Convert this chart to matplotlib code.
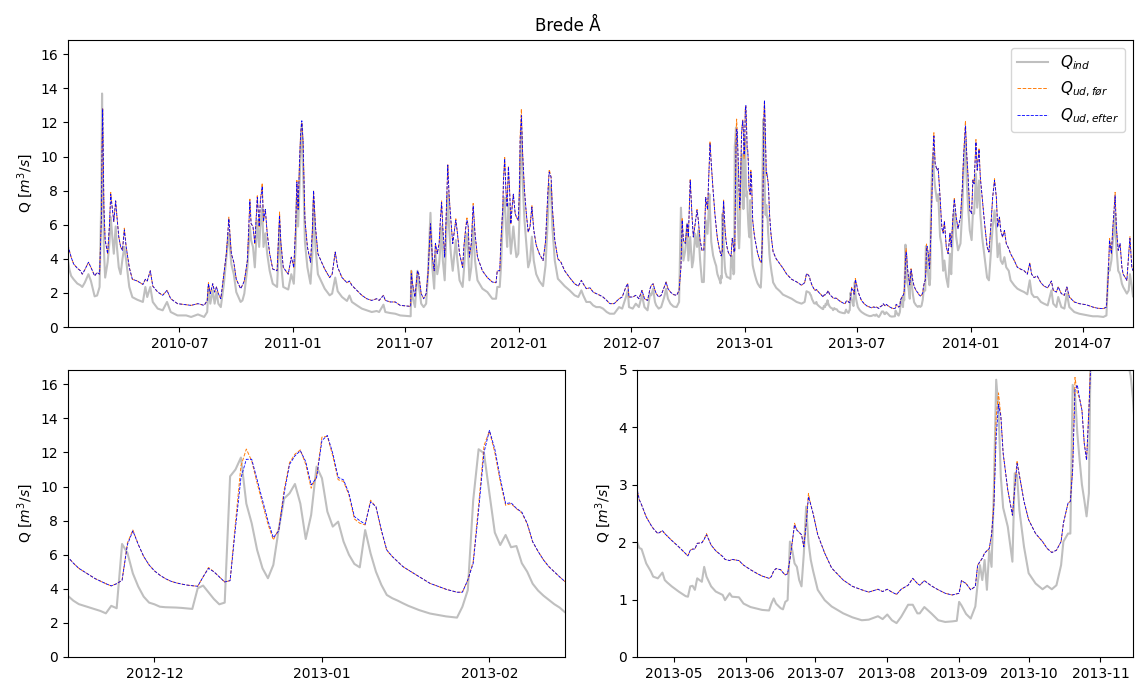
import pandas as pd
import matplotlib.pyplot as plt
import matplotlib.dates as mdates

# daily discharge, Brede Å (m3/s) -- vertices of the hydrograph
dates = [
    '2010-01-02', '2010-01-04', '2010-01-07', '2010-01-11', '2010-01-17', '2010-01-22', '2010-01-25', '2010-01-29', '2010-02-04', '2010-02-08', '2010-02-14', '2010-02-18', '2010-02-22',
    '2010-02-25', '2010-02-26', '2010-02-27', '2010-03-01', '2010-03-03', '2010-03-07', '2010-03-10', '2010-03-12', '2010-03-15', '2010-03-17', '2010-03-20', '2010-03-22', '2010-03-25', '2010-03-28', '2010-03-31', '2010-04-03', '2010-04-06',
    '2010-04-11', '2010-04-16', '2010-04-24', '2010-05-03', '2010-05-07', '2010-05-10', '2010-05-15', '2010-05-19', '2010-05-27', '2010-06-04', '2010-06-11', '2010-06-17', '2010-06-28', '2010-07-12', '2010-07-20', '2010-07-31', '2010-08-10',
    '2010-08-15', '2010-08-17', '2010-08-20', '2010-08-24', '2010-08-27', '2010-08-30', '2010-09-02', '2010-09-06', '2010-09-11', '2010-09-15', '2010-09-19', '2010-09-23', '2010-09-27', '2010-10-01', '2010-10-08', '2010-10-11', '2010-10-14',
    '2010-10-19', '2010-10-23', '2010-10-25', '2010-10-28', '2010-10-31', '2010-11-04', '2010-11-07', '2010-11-09', '2010-11-12', '2010-11-14', '2010-11-17', '2010-11-20', '2010-11-24', '2010-11-29', '2010-12-06', '2010-12-10', '2010-12-12', '2010-12-16', '2010-12-24', '2010-12-29',
    '2011-01-02', '2011-01-05', '2011-01-07', '2011-01-09', '2011-01-11', '2011-01-13', '2011-01-15', '2011-01-17', '2011-01-20', '2011-01-24', '2011-01-29', '2011-02-01', '2011-02-03', '2011-02-06', '2011-02-10', '2011-02-16', '2011-02-21', '2011-03-01', '2011-03-05', '2011-03-10', '2011-03-14',
    '2011-03-21', '2011-03-29', '2011-04-02', '2011-04-06', '2011-04-14', '2011-04-22', '2011-04-30', '2011-05-08', '2011-05-16', '2011-05-20', '2011-05-27', '2011-05-30', '2011-06-07', '2011-06-15', '2011-06-23', '2011-07-10',
    '2011-07-11', '2011-07-13', '2011-07-17', '2011-07-21', '2011-07-23', '2011-07-27', '2011-07-31', '2011-08-04', '2011-08-07', '2011-08-11', '2011-08-14', '2011-08-17', '2011-08-19', '2011-08-22', '2011-08-25', '2011-08-27', '2011-08-29', '2011-08-31', '2011-09-03',
    '2011-09-05', '2011-09-08', '2011-09-10', '2011-09-13', '2011-09-16', '2011-09-21', '2011-09-23', '2011-09-27', '2011-10-02', '2011-10-04', '2011-10-07', '2011-10-09', '2011-10-11', '2011-10-13', '2011-10-16', '2011-10-19', '2011-10-22', '2011-10-26', '2011-11-03',
    '2011-11-11', '2011-11-19', '2011-11-25', '2011-11-27', '2011-12-01', '2011-12-03', '2011-12-06', '2011-12-07', '2011-12-09', '2011-12-11', '2011-12-13', '2011-12-15', '2011-12-17', '2011-12-19', '2011-12-21', '2011-12-23', '2011-12-26', '2011-12-28', '2011-12-31',
    '2012-01-02', '2012-01-03', '2012-01-05', '2012-01-07', '2012-01-10', '2012-01-13', '2012-01-16', '2012-01-19', '2012-01-22', '2012-01-25', '2012-01-29', '2012-02-03', '2012-02-09', '2012-02-13', '2012-02-17', '2012-02-19', '2012-02-22', '2012-02-24', '2012-02-28', '2012-03-04', '2012-03-09',
    '2012-03-15', '2012-03-23', '2012-03-31', '2012-04-06', '2012-04-11', '2012-04-14', '2012-04-19', '2012-04-25', '2012-04-30', '2012-05-05', '2012-05-11', '2012-05-16', '2012-05-22', '2012-05-27', '2012-06-03', '2012-06-11', '2012-06-16', '2012-06-22', '2012-06-25', '2012-06-27',
    '2012-07-03', '2012-07-08', '2012-07-13', '2012-07-18', '2012-07-22', '2012-07-27', '2012-07-31', '2012-08-02', '2012-08-05', '2012-08-08', '2012-08-10', '2012-08-14', '2012-08-18', '2012-08-23', '2012-08-26', '2012-08-29', '2012-09-02', '2012-09-07', '2012-09-12', '2012-09-16',
    '2012-09-19', '2012-09-21', '2012-09-23', '2012-09-26', '2012-09-29', '2012-10-01', '2012-10-04', '2012-10-07', '2012-10-09', '2012-10-12', '2012-10-15', '2012-10-17', '2012-10-20', '2012-10-23', '2012-10-26', '2012-10-29', '2012-11-01', '2012-11-04', '2012-11-05', '2012-11-07', '2012-11-10', '2012-11-13',
    '2012-11-15', '2012-11-16', '2012-11-17', '2012-11-18', '2012-11-19', '2012-11-20', '2012-11-21', '2012-11-22', '2012-11-23', '2012-11-24', '2012-11-25', '2012-11-26', '2012-11-27', '2012-11-28', '2012-11-29', '2012-11-30',
    '2012-12-01', '2012-12-02', '2012-12-03', '2012-12-04', '2012-12-05', '2012-12-06', '2012-12-07', '2012-12-08', '2012-12-09', '2012-12-10', '2012-12-11', '2012-12-12', '2012-12-13', '2012-12-14',
    '2012-12-15', '2012-12-16', '2012-12-17', '2012-12-18', '2012-12-19', '2012-12-20', '2012-12-21', '2012-12-22', '2012-12-23', '2012-12-24', '2012-12-25', '2012-12-26', '2012-12-27', '2012-12-28', '2012-12-29', '2012-12-30', '2012-12-31',
    '2013-01-01', '2013-01-02', '2013-01-03', '2013-01-04', '2013-01-05', '2013-01-06', '2013-01-07', '2013-01-08', '2013-01-09', '2013-01-10', '2013-01-11', '2013-01-12', '2013-01-13', '2013-01-14', '2013-01-15', '2013-01-16', '2013-01-17',
    '2013-01-19', '2013-01-21', '2013-01-24', '2013-01-26', '2013-01-27', '2013-01-28', '2013-01-29', '2013-01-30', '2013-01-31',
    '2013-02-01', '2013-02-02', '2013-02-03', '2013-02-04', '2013-02-05', '2013-02-06', '2013-02-07', '2013-02-08', '2013-02-09', '2013-02-10', '2013-02-11', '2013-02-12', '2013-02-13', '2013-02-14', '2013-02-15',
    '2013-02-20', '2013-02-26', '2013-03-03', '2013-03-09', '2013-03-17', '2013-03-25', '2013-04-02', '2013-04-07', '2013-04-10', '2013-04-13',
    '2013-04-15', '2013-04-16', '2013-04-17', '2013-04-19', '2013-04-21', '2013-04-22', '2013-04-24', '2013-04-26', '2013-04-27', '2013-04-28', '2013-04-30', '2013-05-03', '2013-05-06', '2013-05-07', '2013-05-08', '2013-05-09', '2013-05-10', '2013-05-11', '2013-05-13', '2013-05-14',
    '2013-05-15', '2013-05-17', '2013-05-19', '2013-05-22', '2013-05-23', '2013-05-25', '2013-05-26', '2013-05-29', '2013-05-31', '2013-06-03', '2013-06-06', '2013-06-08', '2013-06-11', '2013-06-12', '2013-06-13', '2013-06-14', '2013-06-16', '2013-06-17', '2013-06-18', '2013-06-19',
    '2013-06-20', '2013-06-21', '2013-06-22', '2013-06-23', '2013-06-24', '2013-06-25', '2013-06-26', '2013-06-27', '2013-06-28', '2013-06-29', '2013-06-30', '2013-07-02', '2013-07-05', '2013-07-08', '2013-07-13', '2013-07-17', '2013-07-21', '2013-07-24', '2013-07-28', '2013-07-30', '2013-08-01', '2013-08-03', '2013-08-05', '2013-08-07',
    '2013-08-10', '2013-08-12', '2013-08-14', '2013-08-15', '2013-08-17', '2013-08-20', '2013-08-23', '2013-08-26', '2013-08-29', '2013-08-31', '2013-09-01', '2013-09-02', '2013-09-04', '2013-09-06', '2013-09-08', '2013-09-09', '2013-09-10', '2013-09-11', '2013-09-12', '2013-09-13', '2013-09-14', '2013-09-15',
    '2013-09-16', '2013-09-17', '2013-09-18', '2013-09-19', '2013-09-20', '2013-09-22', '2013-09-24', '2013-09-25', '2013-09-26', '2013-09-27', '2013-09-29', '2013-10-01', '2013-10-04', '2013-10-07', '2013-10-09',
    '2013-10-11', '2013-10-13', '2013-10-15', '2013-10-16', '2013-10-18', '2013-10-19', '2013-10-20', '2013-10-21', '2013-10-22', '2013-10-23', '2013-10-24', '2013-10-25', '2013-10-26', '2013-10-27', '2013-10-28',
    '2013-10-30', '2013-11-01', '2013-11-02', '2013-11-04', '2013-11-07', '2013-11-09', '2013-11-12', '2013-11-14', '2013-11-15', '2013-11-17', '2013-11-19', '2013-11-22', '2013-11-25',
    '2013-11-28', '2013-11-30', '2013-12-03', '2013-12-05', '2013-12-08', '2013-12-11', '2013-12-15', '2013-12-18', '2013-12-20', '2013-12-23', '2013-12-25', '2013-12-27', '2013-12-30',
    '2014-01-02', '2014-01-04', '2014-01-06', '2014-01-09', '2014-01-11', '2014-01-14', '2014-01-16', '2014-01-19', '2014-01-23', '2014-01-27', '2014-01-30',
    '2014-02-02', '2014-02-05', '2014-02-08', '2014-02-11', '2014-02-13', '2014-02-16', '2014-02-18', '2014-02-21', '2014-02-24', '2014-02-27', '2014-03-03',
    '2014-03-06', '2014-03-12', '2014-03-17', '2014-03-22', '2014-03-28', '2014-04-02', '2014-04-06', '2014-04-09', '2014-04-13', '2014-04-18', '2014-04-24', '2014-04-29', '2014-05-05', '2014-05-11', '2014-05-14',
    '2014-05-19', '2014-05-22', '2014-05-27', '2014-06-01', '2014-06-05', '2014-06-09', '2014-06-17', '2014-06-25', '2014-07-06', '2014-07-12', '2014-07-17', '2014-07-25', '2014-08-03', '2014-08-08',
    '2014-08-11', '2014-08-13', '2014-08-16', '2014-08-18', '2014-08-20', '2014-08-22', '2014-08-24', '2014-08-27', '2014-08-30', '2014-09-02', '2014-09-04', '2014-09-10', '2014-09-13', '2014-09-15', '2014-09-18', '2014-09-20',
]

q_ind = [
    3.9, 3.4, 3.0, 2.8, 2.55, 2.45, 2.35, 2.6, 3.1, 2.7, 1.8, 1.85, 2.35,
    8.0, 13.7, 9.0, 4.5, 2.9, 3.8, 5.0, 6.45, 5.1, 4.3, 5.9, 4.7, 3.5, 3.1, 4.0, 4.7, 3.9,
    2.35, 1.75, 1.6, 1.47, 2.35, 1.76, 2.35, 1.47, 1.08, 0.98, 1.47, 0.88, 0.68, 0.68, 0.59, 0.74, 0.59,
    0.88, 2.35, 1.37, 2.15, 1.37, 2.05, 1.37, 1.17, 2.54, 4.1, 5.5, 3.7, 3.1, 2.05, 1.47, 1.56, 1.96,
    3.5, 5.9, 5.1, 4.7, 3.5, 6.26, 4.7, 5.9, 7.0, 4.7, 5.5, 4.3, 3.3, 2.54, 2.35, 5.9, 3.9, 2.35, 2.2, 3.1,
    2.54, 4.7, 7.6, 5.9, 8.0, 10.4, 11.9, 9.4, 5.0, 3.5, 2.54, 4.3, 7.4, 4.7, 3.1, 2.64, 2.25, 1.86, 1.96, 2.9, 2.1,
    1.76, 1.53, 1.85, 1.47, 1.27, 1.08, 0.98, 0.88, 0.94, 0.88, 1.31, 0.88, 0.82, 0.78, 0.68, 0.63,
    3.3, 1.76, 1.17, 3.3, 2.54, 1.37, 1.17, 1.37, 3.1, 6.7, 3.5, 2.25, 4.3, 3.1, 3.7, 4.7, 5.9, 3.9, 2.74,
    4.7, 7.8, 5.9, 4.3, 3.3, 5.1, 4.1, 2.74, 2.35, 3.3, 4.9, 5.5, 4.3, 2.74, 3.5, 5.9, 3.9, 2.74, 2.25,
    2.05, 1.66, 1.66, 2.35, 2.35, 3.5, 6.5, 7.0, 7.6, 5.9, 4.7, 7.25, 5.5, 4.3, 5.1, 5.9, 4.7, 4.1, 4.3,
    6.6, 9.4, 11.5, 8.6, 6.26, 4.9, 3.5, 3.9, 5.3, 3.9, 3.1, 2.7, 2.4, 3.6, 6.5, 8.4, 8.0, 5.9, 3.9, 2.83, 2.64,
    2.4, 2.15, 1.86, 1.76, 2.15, 1.86, 1.47, 1.47, 1.27, 1.17, 1.17, 1.08, 0.88, 0.78, 0.78, 1.17, 1.08, 1.76, 2.15, 1.17,
    1.08, 1.37, 1.17, 1.86, 1.17, 0.98, 1.96, 1.86, 2.25, 1.47, 1.27, 1.08, 1.17, 1.76, 2.25, 1.66, 1.37, 1.2, 1.17, 1.47,
    7.0, 5.1, 3.9, 4.5, 6.06, 3.9, 5.28, 3.5, 3.9, 5.47, 4.7, 5.67, 3.9, 2.64, 2.64, 6.26, 5.47, 7.8, 6.8, 5.0, 4.2, 3.8,
    3.58, 3.3, 3.1, 3.0, 2.9, 2.8, 2.7, 2.56, 3.0, 2.86, 6.63, 6.1, 4.9, 4.13, 3.54, 3.19,
    3.09, 2.95, 2.92, 2.91, 2.9, 2.88, 2.85, 2.82, 4.03, 4.19, 3.8, 3.4, 3.09, 3.19,
    10.6, 11.0, 11.7, 9.0, 7.84, 6.28, 5.2, 4.62, 5.4, 7.5, 9.3, 9.6, 10.15, 9.0, 6.92, 8.33, 11.17,
    10.49, 8.53, 7.65, 7.94, 6.77, 6.0, 5.46, 5.26, 7.45, 6.08, 5.0, 4.23, 3.64, 3.45, 3.31, 3.15, 3.0,
    2.75, 2.55, 2.38, 2.31, 2.95, 3.93, 9.2, 12.19, 11.95,
    9.6, 7.3, 6.57, 7.16, 6.44, 6.51, 5.5, 5.0, 4.3, 3.9, 3.6, 3.35, 3.1, 2.9, 2.62,
    2.3, 2.1, 1.9, 1.8, 1.66, 1.47, 1.37, 1.47, 2.1, 2.05,
    2.01, 1.9, 1.88, 1.63, 1.49, 1.4, 1.37, 1.47, 1.34, 1.3, 1.23, 1.14, 1.06, 1.05, 1.23, 1.24, 1.17, 1.37, 1.31, 1.57,
    1.4, 1.23, 1.14, 1.08, 0.99, 1.11, 1.05, 1.04, 0.93, 0.87, 0.84, 0.82, 0.81, 0.93, 1.02, 0.93, 0.85, 0.83, 0.96, 0.99,
    2.01, 1.86, 1.63, 1.57, 1.34, 1.23, 1.8, 2.62, 2.0, 1.69, 1.5, 1.17, 0.99, 0.88, 0.76, 0.69, 0.64, 0.65, 0.71, 0.66, 0.74, 0.64, 0.59, 0.7,
    0.91, 0.91, 0.76, 0.76, 0.87, 0.76, 0.64, 0.61, 0.62, 0.63, 0.96, 0.9, 0.75, 0.67, 0.88, 1.28, 1.6, 1.34, 1.69, 1.17, 1.86, 1.57,
    2.91, 4.83, 4.3, 3.14, 2.6, 2.27, 1.66, 3.2, 3.17, 2.56, 1.92, 1.46, 1.28, 1.18, 1.24,
    1.18, 1.25, 1.6, 2.01, 2.15, 2.15, 4.74, 4.59, 3.9, 3.43, 3.0, 2.74, 2.45, 2.85, 6.3,
    9.2, 10.2, 9.0, 8.2, 7.4, 7.8, 5.3, 4.9, 4.5, 3.3, 3.9, 2.9, 2.35,
    4.3, 3.1, 5.87, 6.84, 5.3, 4.5, 4.9, 7.0, 9.2, 10.9, 8.6, 7.2, 5.67,
    5.1, 6.65, 6.65, 9.0, 7.0, 8.6, 6.65, 5.28, 4.1, 2.9, 2.74,
    4.3, 5.87, 6.84, 5.67, 4.1, 4.9, 3.9, 3.7, 4.1, 3.5, 3.3,
    2.74, 2.44, 2.25, 2.15, 2.05, 1.92, 2.74, 1.96, 1.76, 1.76, 1.47, 1.37, 1.27, 2.15, 1.37,
    1.17, 1.76, 1.17, 1.08, 1.96, 1.17, 0.88, 0.78, 0.7, 0.66, 0.63, 0.63, 0.59, 0.68,
    3.5, 3.3, 3.9, 4.9, 5.5, 6.65, 4.7, 3.3, 3.1, 2.54, 2.35, 1.96, 2.15, 3.1, 2.35, 1.8,
]

q_ud_for = [
    4.8, 4.5, 4.1, 3.7, 3.45, 3.3, 3.1, 3.35, 3.8, 3.5, 3.0, 3.2, 3.1,
    6.6, 10.7, 12.8, 7.0, 5.1, 4.3, 6.0, 7.9, 6.8, 6.2, 7.4, 6.5, 5.3, 4.7, 4.5, 5.8, 4.7,
    3.5, 2.8, 2.7, 2.5, 2.8, 2.7, 3.3, 2.4, 2.05, 1.86, 2.15, 1.66, 1.37, 1.31, 1.27, 1.37, 1.27,
    1.55, 2.6, 1.96, 2.54, 2.05, 2.35, 1.96, 1.66, 3.1, 4.3, 6.45, 4.3, 3.8, 2.8, 2.25, 2.45, 2.7,
    3.9, 7.5, 6.06, 5.9, 4.9, 7.7, 5.9, 7.4, 8.45, 6.2, 6.9, 5.5, 4.3, 3.4, 3.3, 6.75, 5.0, 3.5, 3.1, 4.1,
    3.5, 5.9, 8.6, 6.9, 9.4, 11.3, 12.0, 10.9, 6.3, 4.7, 3.8, 5.6, 8.0, 5.9, 4.3, 3.8, 3.4, 2.9, 3.1, 4.4, 3.5,
    2.9, 2.6, 2.7, 2.44, 2.15, 1.86, 1.66, 1.56, 1.66, 1.56, 1.86, 1.56, 1.47, 1.47, 1.27, 1.21,
    3.3, 2.54, 1.76, 3.3, 3.13, 1.96, 1.66, 1.96, 3.13, 6.06, 4.1, 3.3, 4.9, 4.3, 4.9, 6.26, 7.4, 5.8, 4.1,
    6.06, 9.55, 7.8, 6.26, 4.9, 6.35, 5.7, 4.3, 3.5, 4.7, 5.9, 6.4, 5.9, 4.1, 4.9, 7.25, 5.5, 4.1, 3.3,
    2.9, 2.64, 2.6, 3.3, 3.3, 5.1, 7.04, 8.6, 9.95, 8.0, 7.04, 9.45, 8.0, 6.06, 7.04, 7.8, 6.65, 6.45, 6.26,
    8.2, 11.2, 12.8, 10.2, 8.0, 6.65, 5.57, 5.9, 7.15, 5.7, 4.8, 4.3, 3.9, 5.0, 8.0, 9.25, 8.8, 7.04, 5.1, 4.0, 3.8,
    3.3, 2.9, 2.54, 2.4, 2.74, 2.54, 2.25, 2.3, 2.05, 1.96, 1.86, 1.76, 1.56, 1.37, 1.37, 1.66, 1.76, 2.35, 2.54, 1.76,
    1.76, 1.86, 1.66, 2.15, 1.66, 1.56, 2.25, 2.44, 2.54, 2.15, 1.96, 1.76, 1.86, 2.35, 2.64, 2.25, 2.05, 1.9, 1.86, 2.15,
    3.5, 6.4, 5.08, 4.9, 6.06, 5.28, 8.7, 6.45, 5.28, 6.06, 6.9, 6.3, 5.08, 4.5, 4.5, 7.6, 6.9, 9.9, 10.9, 9.6, 8.0, 6.6,
    5.85, 5.5, 5.2, 5.0, 4.8, 4.6, 4.45, 4.3, 4.17, 4.3, 4.5, 6.7, 7.45, 6.6, 5.9, 5.4,
    5.05, 4.8, 4.6, 4.45, 4.35, 4.28, 4.22, 4.18, 4.15, 4.7, 5.25, 5.0, 4.7, 4.4,
    4.48, 7.9, 11.2, 12.2, 11.5, 10.2, 9.0, 7.8, 6.87, 7.5, 9.8, 11.4, 11.9, 12.15, 11.3, 9.9, 10.6,
    12.9, 12.95, 11.8, 10.4, 10.3, 9.5, 8.1, 7.85, 7.75, 9.2, 8.8, 7.4, 6.25, 5.9, 5.6, 5.3, 5.1,
    4.71, 4.32, 3.97, 3.8, 3.8, 4.52, 5.6, 8.9, 12.4,
    13.25, 12.0, 10.3, 8.9, 9.0, 8.7, 8.45, 7.8, 6.75, 6.2, 5.7, 5.3, 5.0, 4.7, 4.42,
    4.0, 3.7, 3.45, 3.1, 2.8, 2.65, 2.45, 2.6, 3.13, 3.05,
    2.94, 2.74, 2.65, 2.44, 2.3, 2.24, 2.15, 2.2, 2.15, 2.11, 2.03, 1.92, 1.8, 1.76, 1.86, 1.88, 1.88, 1.98, 1.99, 2.05,
    2.15, 1.95, 1.85, 1.75, 1.7, 1.68, 1.7, 1.68, 1.6, 1.52, 1.45, 1.41, 1.37, 1.4, 1.5, 1.54, 1.52, 1.47, 1.43, 1.45,
    1.7, 2.0, 2.33, 2.21, 2.17, 2.13, 1.92, 2.35, 2.85, 2.65, 2.5, 2.13, 1.81, 1.55, 1.34, 1.23, 1.17, 1.13, 1.18, 1.14, 1.18, 1.13, 1.09, 1.18,
    1.25, 1.37, 1.28, 1.25, 1.33, 1.24, 1.17, 1.11, 1.08, 1.1, 1.11, 1.33, 1.28, 1.17, 1.23, 1.6, 1.66, 1.72, 1.81, 1.85, 1.89, 2.13,
    2.7, 4.2, 4.6, 4.2, 3.55, 2.91, 2.47, 2.94, 3.42, 3.17, 2.71, 2.39, 2.15, 2.01, 1.89,
    1.82, 1.86, 2.01, 2.33, 2.68, 2.71, 3.3, 4.87, 4.6, 4.5, 4.3, 3.72, 3.43, 4.35, 5.4,
    8.2, 10.8, 11.4, 9.6, 9.2, 9.3, 7.6, 6.3, 5.8, 5.5, 6.2, 4.7, 4.3,
    5.5, 4.7, 6.6, 7.6, 6.45, 5.77, 6.45, 8.2, 10.1, 12.1, 10.2, 9.0, 6.84,
    6.65, 8.7, 8.4, 11.0, 9.2, 10.5, 8.8, 7.6, 6.06, 4.7, 4.4,
    5.87, 7.6, 8.7, 7.6, 5.87, 6.45, 5.67, 5.28, 5.67, 4.9, 4.6,
    4.3, 3.9, 3.5, 3.4, 3.3, 3.1, 3.75, 3.1, 2.9, 3.0, 2.6, 2.4, 2.3, 2.7, 2.15,
    2.05, 2.35, 1.96, 1.86, 2.35, 1.76, 1.47, 1.37, 1.31, 1.23, 1.17, 1.1, 1.08, 1.17,
    3.1, 5.2, 4.3, 5.67, 6.7, 7.9, 5.87, 4.5, 4.9, 3.5, 3.1, 2.74, 4.3, 5.3, 3.5, 3.3,
]

q_ud_efter = [
    4.8, 4.5, 4.1, 3.7, 3.45, 3.3, 3.1, 3.35, 3.8, 3.5, 3.0, 3.2, 3.1,
    6.5, 10.5, 12.8, 7.0, 5.1, 4.3, 6.0, 7.8, 6.8, 6.2, 7.4, 6.5, 5.3, 4.7, 4.5, 5.7, 4.7,
    3.5, 2.8, 2.7, 2.5, 2.8, 2.7, 3.3, 2.4, 2.05, 1.86, 2.15, 1.66, 1.37, 1.31, 1.27, 1.37, 1.27,
    1.55, 2.54, 1.96, 2.54, 2.05, 2.35, 1.96, 1.66, 3.1, 4.3, 6.35, 4.3, 3.8, 2.8, 2.25, 2.45, 2.7,
    3.9, 7.4, 6.06, 5.9, 4.9, 7.6, 5.9, 7.4, 8.25, 6.2, 6.9, 5.5, 4.3, 3.4, 3.3, 6.55, 5.0, 3.5, 3.1, 4.1,
    3.5, 5.9, 8.5, 6.9, 9.4, 11.3, 12.1, 10.9, 6.3, 4.7, 3.8, 5.6, 8.0, 5.9, 4.3, 3.8, 3.4, 2.9, 3.1, 4.4, 3.5,
    2.9, 2.6, 2.7, 2.44, 2.15, 1.86, 1.66, 1.56, 1.66, 1.56, 1.86, 1.56, 1.47, 1.47, 1.27, 1.21,
    3.13, 2.54, 1.76, 3.3, 3.13, 1.96, 1.66, 1.96, 3.13, 6.06, 4.1, 3.3, 4.9, 4.3, 4.9, 6.26, 7.3, 5.8, 4.1,
    6.06, 9.5, 7.8, 6.26, 4.9, 6.26, 5.7, 4.3, 3.5, 4.7, 5.77, 6.26, 5.9, 4.1, 4.9, 7.1, 5.5, 4.1, 3.3,
    2.9, 2.64, 2.6, 3.3, 3.3, 5.1, 7.04, 8.6, 9.87, 8.0, 7.04, 9.4, 8.0, 6.06, 7.04, 7.8, 6.65, 6.45, 6.26,
    8.2, 11.0, 12.4, 10.2, 8.0, 6.65, 5.57, 5.9, 7.04, 5.7, 4.8, 4.3, 3.9, 5.0, 8.0, 9.1, 8.8, 7.04, 5.1, 4.0, 3.8,
    3.3, 2.9, 2.54, 2.4, 2.74, 2.54, 2.25, 2.3, 2.05, 1.96, 1.86, 1.76, 1.56, 1.37, 1.37, 1.66, 1.76, 2.35, 2.54, 1.76,
    1.76, 1.86, 1.66, 2.15, 1.66, 1.56, 2.25, 2.44, 2.54, 2.15, 1.96, 1.76, 1.86, 2.35, 2.64, 2.25, 2.05, 1.9, 1.86, 2.15,
    3.5, 6.26, 5.08, 4.9, 6.06, 5.28, 8.6, 6.45, 5.28, 6.06, 6.84, 6.3, 5.08, 4.5, 4.5, 7.6, 6.9, 9.8, 10.75, 9.6, 8.0, 6.6,
    5.85, 5.5, 5.2, 5.0, 4.8, 4.6, 4.45, 4.3, 4.17, 4.3, 4.5, 6.6, 7.4, 6.6, 5.9, 5.4,
    5.05, 4.8, 4.6, 4.45, 4.35, 4.28, 4.22, 4.18, 4.15, 4.7, 5.2, 5.0, 4.7, 4.4,
    4.48, 7.6, 10.5, 11.6, 11.6, 10.4, 9.2, 8.0, 7.0, 7.4, 9.6, 11.3, 11.8, 12.1, 11.46, 10.1, 10.5,
    12.7, 13.0, 11.95, 10.54, 10.39, 9.6, 8.24, 8.0, 7.79, 9.1, 8.82, 7.45, 6.28, 5.9, 5.6, 5.3, 5.1,
    4.71, 4.32, 3.97, 3.8, 3.8, 4.52, 5.5, 8.6, 12.0,
    13.3, 12.2, 10.5, 9.0, 9.05, 8.72, 8.5, 7.84, 6.77, 6.2, 5.7, 5.3, 5.0, 4.7, 4.42,
    4.0, 3.7, 3.45, 3.1, 2.8, 2.65, 2.45, 2.6, 3.13, 3.05,
    2.94, 2.74, 2.65, 2.44, 2.3, 2.24, 2.15, 2.2, 2.15, 2.11, 2.03, 1.92, 1.8, 1.76, 1.86, 1.88, 1.88, 1.98, 1.99, 2.05,
    2.13, 1.95, 1.85, 1.75, 1.7, 1.68, 1.7, 1.68, 1.6, 1.52, 1.45, 1.41, 1.37, 1.4, 1.5, 1.54, 1.52, 1.47, 1.43, 1.45,
    1.7, 2.0, 2.3, 2.21, 2.17, 2.13, 1.92, 2.3, 2.79, 2.65, 2.5, 2.13, 1.81, 1.55, 1.34, 1.23, 1.17, 1.13, 1.18, 1.14, 1.18, 1.13, 1.09, 1.18,
    1.25, 1.37, 1.28, 1.25, 1.33, 1.24, 1.17, 1.11, 1.08, 1.1, 1.11, 1.33, 1.28, 1.17, 1.23, 1.6, 1.66, 1.72, 1.81, 1.85, 1.89, 2.13,
    2.62, 3.84, 4.4, 4.2, 3.55, 2.91, 2.47, 2.94, 3.37, 3.17, 2.71, 2.39, 2.15, 2.01, 1.89,
    1.82, 1.86, 2.01, 2.33, 2.68, 2.71, 3.26, 4.65, 4.74, 4.5, 4.3, 3.72, 3.43, 4.3, 5.3,
    8.0, 10.5, 11.2, 9.6, 9.2, 9.3, 7.6, 6.3, 5.8, 5.5, 6.2, 4.7, 4.3,
    5.5, 4.7, 6.6, 7.5, 6.45, 5.77, 6.45, 8.2, 10.0, 11.8, 10.2, 9.0, 6.84,
    6.65, 8.6, 8.4, 10.85, 9.2, 10.4, 8.8, 7.6, 6.06, 4.7, 4.4,
    5.87, 7.6, 8.6, 7.6, 5.87, 6.45, 5.67, 5.28, 5.67, 4.9, 4.6,
    4.3, 3.9, 3.5, 3.4, 3.3, 3.1, 3.75, 3.1, 2.9, 3.0, 2.6, 2.4, 2.3, 2.7, 2.15,
    2.05, 2.35, 1.96, 1.86, 2.35, 1.76, 1.47, 1.37, 1.31, 1.23, 1.17, 1.1, 1.08, 1.17,
    3.1, 5.1, 4.3, 5.67, 6.65, 7.7, 5.87, 4.5, 4.9, 3.5, 3.1, 2.74, 4.3, 5.2, 3.5, 3.3,
]

t = pd.to_datetime(dates)

fig = plt.figure(figsize=(11.36, 6.86), dpi=100)
fig.suptitle('Brede Å', y=0.975)

ax1 = fig.add_axes([0.0599, 0.5233, 0.9375, 0.4184])
ax2 = fig.add_axes([0.0599, 0.0423, 0.4375, 0.4184], sharey=ax1)
ax3 = fig.add_axes([0.5607, 0.0423, 0.4366, 0.4184])

for ax in (ax1, ax2, ax3):
    ax.plot(t, q_ind, color='grey', alpha=0.5, lw=1.5, label=r'$Q_{ind}$')
    ax.plot(t, q_ud_for, '--', color='C1', lw=0.7, label=r'$Q_{ud,før}$')
    ax.plot(t, q_ud_efter, '--', color='b', lw=0.6, label=r'$Q_{ud,efter}$')
    ax.set_ylabel('Q [$m^3/s$]')
    ax.xaxis.set_major_formatter(mdates.DateFormatter('%Y-%m'))

ax1.set_xlim(t[0], t[-1])
ax1.set_ylim(0, 16.84)
ax1.xaxis.set_major_locator(mdates.MonthLocator(bymonth=[1, 7]))
ax1.legend(loc='upper right', fontsize=11)

ax2.set_xlim(pd.Timestamp('2012-11-15'), pd.Timestamp('2013-02-15'))
ax2.xaxis.set_major_locator(mdates.MonthLocator())

ax3.set_xlim(pd.Timestamp('2013-04-15'), pd.Timestamp('2013-11-15'))
ax3.set_ylim(0, 5)
ax3.xaxis.set_major_locator(mdates.MonthLocator())

fig.savefig('out.png', dpi=100)
